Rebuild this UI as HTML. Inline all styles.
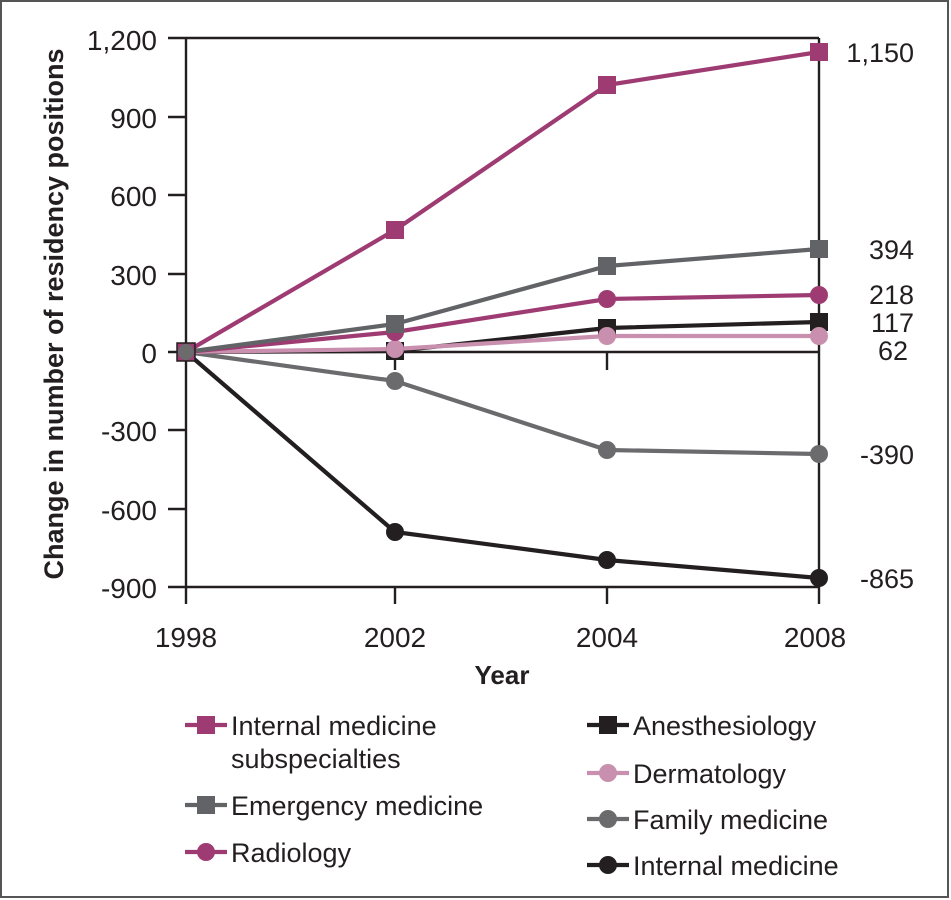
<!DOCTYPE html>
<html><head><meta charset="utf-8"><style>
html,body{margin:0;padding:0;background:#fff;}
svg{display:block;font-family:"Liberation Sans",sans-serif;}
</style></head><body>
<svg width="951" height="900" viewBox="0 0 951 900" xmlns="http://www.w3.org/2000/svg">
<rect x="1" y="1" width="947" height="896" fill="#fff" stroke="#555" stroke-width="2"/>
<g stroke="#231f20" stroke-width="2.4" fill="none">
<line x1="168" y1="38" x2="819" y2="38"/>
<line x1="186" y1="38" x2="186" y2="604"/>
<line x1="819" y1="38" x2="819" y2="604"/>
<line x1="168" y1="587" x2="819" y2="587"/>
<line x1="168" y1="352" x2="819" y2="352"/>
<line x1="168" y1="117" x2="186" y2="117"/>
<line x1="168" y1="195" x2="186" y2="195"/>
<line x1="168" y1="274" x2="186" y2="274"/>
<line x1="168" y1="430" x2="186" y2="430"/>
<line x1="168" y1="509" x2="186" y2="509"/>
<line x1="395" y1="587" x2="395" y2="604"/>
<line x1="607" y1="587" x2="607" y2="604"/>
<line x1="395" y1="352" x2="395" y2="370"/>
<line x1="607" y1="352" x2="607" y2="370"/>
</g>
<g font-size="28" fill="#231f20" text-anchor="end">
<text x="157" y="50">1,200</text>
<text x="157" y="128">900</text>
<text x="157" y="206">600</text>
<text x="157" y="285">300</text>
<text x="157" y="363">0</text>
<text x="157" y="441">-300</text>
<text x="157" y="520">-600</text>
<text x="157" y="598">-900</text>
</g>
<g font-size="28" fill="#231f20" text-anchor="middle">
<text x="186" y="647">1998</text>
<text x="395" y="647">2002</text>
<text x="607" y="647">2004</text>
<text x="815" y="647">2008</text>
<text x="502" y="684" font-weight="bold" font-size="26">Year</text>
<text transform="translate(63,314) rotate(-90)" font-weight="bold" font-size="27">Change in number of residency positions</text>
</g>
<g font-size="27" fill="#231f20" text-anchor="end">
<text x="914" y="62">1,150</text>
<text x="914" y="259">394</text>
<text x="914" y="304">218</text>
<text x="914" y="332">117</text>
<text x="908" y="360">62</text>
<text x="914" y="464">-390</text>
<text x="914" y="588">-865</text>
</g>
<g fill="none" stroke-width="4.2" stroke-linejoin="round">
<polyline points="186,352 395,381 607,450 819,454" stroke="#6b6b6e"/>
<polyline points="186,352 395,532 607,560 819,578" stroke="#231f20"/>
<polyline points="186,352 395,351 607,328 819,322" stroke="#231f20"/>
<polyline points="186,352 395,349 607,336 819,336" stroke="#c98fae"/>
<polyline points="186,352 395,332 607,299 819,295" stroke="#9e3b72"/>
<polyline points="186,352 395,324 607,266 819,249" stroke="#626366"/>
<polyline points="186,352 395,230 607,85 819,52" stroke="#9e3b72"/>
</g>
<g>
<circle cx="395" cy="381" r="9" fill="#6b6b6e"/><circle cx="607" cy="450" r="9" fill="#6b6b6e"/><circle cx="819" cy="454" r="9" fill="#6b6b6e"/>
<circle cx="395" cy="532" r="9" fill="#231f20"/><circle cx="607" cy="560" r="9" fill="#231f20"/><circle cx="819" cy="578" r="9" fill="#231f20"/>
<rect x="386" y="342" width="18" height="18" fill="#231f20"/><rect x="598" y="319" width="18" height="18" fill="#231f20"/><rect x="810" y="313" width="18" height="18" fill="#231f20"/>
<circle cx="395" cy="349" r="9" fill="#c98fae"/><circle cx="607" cy="336" r="9" fill="#c98fae"/><circle cx="819" cy="336" r="9" fill="#c98fae"/>
<circle cx="395" cy="332" r="9" fill="#9e3b72"/><circle cx="607" cy="299" r="9" fill="#9e3b72"/><circle cx="819" cy="295" r="9" fill="#9e3b72"/>
<rect x="386" y="315" width="18" height="18" fill="#626366"/><rect x="598" y="257" width="18" height="18" fill="#626366"/><rect x="810" y="240" width="18" height="18" fill="#626366"/>
<rect x="386" y="221" width="18" height="18" fill="#9e3b72"/><rect x="598" y="76" width="18" height="18" fill="#9e3b72"/><rect x="810" y="43" width="18" height="18" fill="#9e3b72"/>
<rect x="177" y="343" width="18" height="18" fill="#9e3b72" stroke="#231f20" stroke-width="1.5"/>
<circle cx="186" cy="352" r="8" fill="#6b6b6e"/>
</g>
<g stroke-width="4.2">
<line x1="185" y1="725" x2="227" y2="725" stroke="#9e3b72"/><rect x="197" y="716" width="18" height="18" fill="#9e3b72"/>
<line x1="185" y1="805" x2="227" y2="805" stroke="#626366"/><rect x="197" y="796" width="18" height="18" fill="#626366"/>
<line x1="185" y1="852" x2="227" y2="852" stroke="#9e3b72"/><circle cx="206" cy="852" r="9" fill="#9e3b72"/>
<line x1="587" y1="725" x2="629" y2="725" stroke="#231f20"/><rect x="599" y="716" width="18" height="18" fill="#231f20"/>
<line x1="587" y1="773" x2="629" y2="773" stroke="#c98fae"/><circle cx="608" cy="773" r="9" fill="#c98fae"/>
<line x1="587" y1="819" x2="629" y2="819" stroke="#6b6b6e"/><circle cx="608" cy="819" r="9" fill="#6b6b6e"/>
<line x1="587" y1="865" x2="629" y2="865" stroke="#231f20"/><circle cx="608" cy="865" r="9" fill="#231f20"/>
</g>
<g font-size="27" fill="#231f20">
<text x="231" y="735">Internal medicine</text>
<text x="231" y="768">subspecialties</text>
<text x="231" y="815">Emergency medicine</text>
<text x="231" y="862">Radiology</text>
<text x="633" y="735">Anesthesiology</text>
<text x="633" y="783">Dermatology</text>
<text x="633" y="829">Family medicine</text>
<text x="633" y="875">Internal medicine</text>
</g>
</svg>
</body></html>
